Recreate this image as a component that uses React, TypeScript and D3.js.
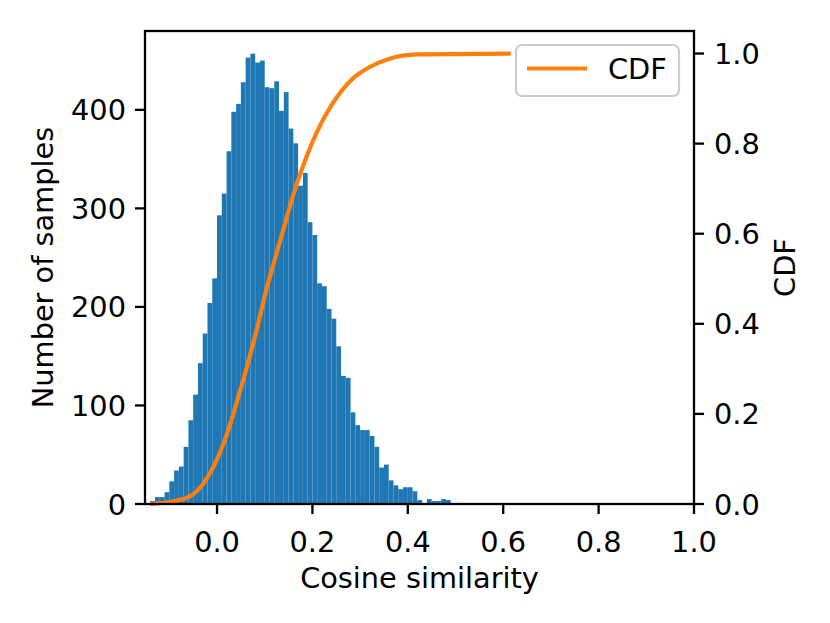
import React, { useEffect, useRef } from "react";
import * as d3 from "d3";

// histogram: bins of 0.01 starting at -0.14
const binStart = -0.14;
const binWidth = 0.01;
const counts = [
  3, 7, 7, 12, 23, 34, 38, 58, 85, 111,
  143, 173, 204, 229, 293, 315, 358, 398, 406, 428,
  453, 457, 448, 450, 423, 422, 429, 399, 418, 381,
  366, 323, 336, 286, 273, 224, 221, 198, 188, 160,
  130, 128, 93, 80, 75, 75, 69, 58, 37, 40,
  24, 19, 15, 17, 17, 13, 4, 0, 5, 3, 3, 5, 4
];

// CDF curve
const cdfX = [-0.14, -0.092, -0.057, -0.029, 0.0, 0.024, 0.041, 0.062, 0.083, 0.104, 0.125, 0.14, 0.167, 0.188, 0.209, 0.244, 0.282, 0.32, 0.36, 0.42, 0.616];
const cdfY = [0.0, 0.006, 0.017, 0.045, 0.099, 0.165, 0.224, 0.302, 0.386, 0.478, 0.557, 0.613, 0.71, 0.772, 0.825, 0.892, 0.942, 0.97, 0.988, 0.998, 1.0];

const xTicks = [0, 0.2, 0.4, 0.6, 0.8, 1.0];
const leftTicks = [0, 100, 200, 300, 400];
const rightTicks = [0, 0.2, 0.4, 0.6, 0.8, 1.0];

const FONT = "DejaVu Sans";
const FS = 28.8;

const drawChart = (el: SVGSVGElement) => {
  const dims = { width: 830, height: 623 };
  const box = { left: 145, right: 694, top: 31, bottom: 504 };

  const svg = d3.select(el);
  svg.selectAll("*").remove();
  svg.attr("width", dims.width).attr("height", dims.height);

  svg.append("rect").attr("width", dims.width).attr("height", dims.height).attr("fill", "white");

  const x = d3.scaleLinear().domain([-0.151, 1.0]).range([box.left, box.right]);
  const yL = d3.scaleLinear().domain([0, 480]).range([box.bottom, box.top]);
  const yR = d3.scaleLinear().domain([0, 1.05]).range([box.bottom, box.top]);

  // bars
  svg
    .append("g")
    .selectAll("rect")
    .data(counts)
    .enter()
    .append("rect")
    .attr("x", (d, i) => x(binStart + i * binWidth))
    .attr("width", (d, i) => x(binStart + (i + 1) * binWidth) - x(binStart + i * binWidth))
    .attr("y", d => yL(d))
    .attr("height", d => yL(0) - yL(d))
    .attr("fill", "#1f77b4");

  // cdf line
  const line = d3
    .line<number>()
    .x((d, i) => x(cdfX[i]))
    .y(d => yR(d))
    .curve(d3.curveMonotoneX);

  svg
    .append("path")
    .datum(cdfY)
    .attr("d", line)
    .attr("fill", "none")
    .attr("stroke", "#ff7f0e")
    .attr("stroke-width", 4.2)
    .attr("stroke-linejoin", "round");

  // spines
  svg
    .append("rect")
    .attr("x", box.left)
    .attr("y", box.top)
    .attr("width", box.right - box.left)
    .attr("height", box.bottom - box.top)
    .attr("fill", "none")
    .attr("stroke", "black")
    .attr("stroke-width", 2.3);

  const tickLen = 10;
  const fmt = d3.format(".1f");

  // bottom axis
  const bx = svg.append("g");
  bx.selectAll("line")
    .data(xTicks)
    .enter()
    .append("line")
    .attr("x1", d => x(d))
    .attr("x2", d => x(d))
    .attr("y1", box.bottom)
    .attr("y2", box.bottom + tickLen)
    .attr("stroke", "black")
    .attr("stroke-width", 2.3);
  bx.selectAll("text")
    .data(xTicks)
    .enter()
    .append("text")
    .attr("x", d => x(d))
    .attr("y", 552)
    .attr("text-anchor", "middle")
    .text(d => fmt(d));

  // left axis
  const lx = svg.append("g");
  lx.selectAll("line")
    .data(leftTicks)
    .enter()
    .append("line")
    .attr("x1", box.left - tickLen)
    .attr("x2", box.left)
    .attr("y1", d => yL(d))
    .attr("y2", d => yL(d))
    .attr("stroke", "black")
    .attr("stroke-width", 2.3);
  lx.selectAll("text")
    .data(leftTicks)
    .enter()
    .append("text")
    .attr("x", box.left - tickLen - 9)
    .attr("y", d => yL(d) + 10.5)
    .attr("text-anchor", "end")
    .text(d => String(d));

  // right axis
  const rx = svg.append("g");
  rx.selectAll("line")
    .data(rightTicks)
    .enter()
    .append("line")
    .attr("x1", box.right)
    .attr("x2", box.right + tickLen)
    .attr("y1", d => yR(d))
    .attr("y2", d => yR(d))
    .attr("stroke", "black")
    .attr("stroke-width", 2.3);
  rx.selectAll("text")
    .data(rightTicks)
    .enter()
    .append("text")
    .attr("x", box.right + tickLen + 10)
    .attr("y", d => yR(d) + 10.5)
    .attr("text-anchor", "start")
    .text(d => fmt(d));

  // axis labels
  svg
    .append("text")
    .attr("x", (box.left + box.right) / 2)
    .attr("y", 588)
    .attr("text-anchor", "middle")
    .text("Cosine similarity");

  svg
    .append("text")
    .attr("transform", `translate(53, ${(box.top + box.bottom) / 2}) rotate(-90)`)
    .attr("text-anchor", "middle")
    .text("Number of samples");

  svg
    .append("text")
    .attr("transform", `translate(795, ${(box.top + box.bottom) / 2}) rotate(-90)`)
    .attr("text-anchor", "middle")
    .text("CDF");

  // legend
  const lg = svg.append("g");
  lg.append("rect")
    .attr("x", 516)
    .attr("y", 45)
    .attr("width", 163)
    .attr("height", 51)
    .attr("rx", 6)
    .attr("fill", "white")
    .attr("fill-opacity", 0.8)
    .attr("stroke", "#cccccc")
    .attr("stroke-width", 2.2);
  lg.append("line")
    .attr("x1", 527)
    .attr("x2", 587)
    .attr("y1", 68.5)
    .attr("y2", 68.5)
    .attr("stroke", "#ff7f0e")
    .attr("stroke-width", 4.2);
  lg.append("text").attr("x", 608).attr("y", 79).text("CDF");

  svg.selectAll("text").attr("font-family", FONT).attr("font-size", FS).attr("fill", "black");
};

function App() {
  const ref = useRef<SVGSVGElement>(null);
  useEffect(() => {
    document.body.style.margin = "0";
    if (ref.current) drawChart(ref.current);
  }, []);

  return <svg ref={ref} style={{ display: "block" }}></svg>;
}

export default App;
